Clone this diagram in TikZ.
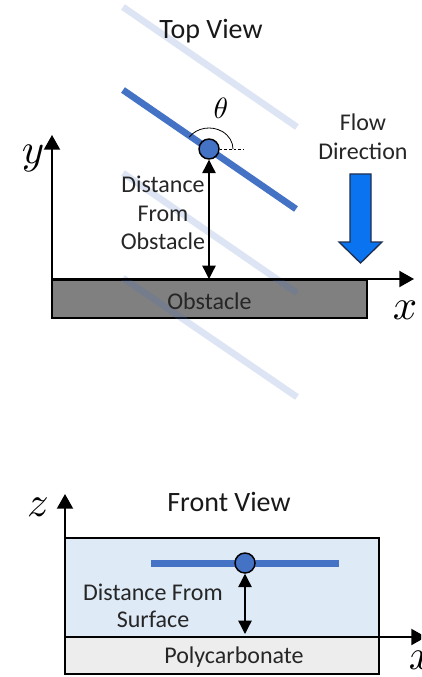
\documentclass[tikz,border=0pt]{standalone}
\usepackage{fontspec}
\setmainfont{Carlito}
\usetikzlibrary{arrows.meta,positioning}
\definecolor{blade}{HTML}{4472C4}
\definecolor{flow}{HTML}{0A74F0}
\definecolor{flowedge}{HTML}{1F2F4F}
\definecolor{obst}{HTML}{808080}
\definecolor{water}{HTML}{DEEAF6}
\definecolor{poly}{HTML}{EDEDED}

\begin{document}
\begin{tikzpicture}[x=0.75pt,y=-0.75pt,
  lbl/.style={font=\fontsize{18}{21.4}\selectfont,text=black!85,align=center,inner sep=0pt},
  ttl/.style={font=\fontsize{21}{24}\selectfont,text=black!90,inner sep=0pt},
  axlbl/.style={scale=3.2,inner sep=0pt},
  axarrow/.style={line width=1.5pt,-{Triangle[width=12pt,length=11pt]}},
  dist/.style={line width=1pt,{Triangle[width=10pt,length=10pt]}-{Triangle[width=10pt,length=10pt]}},
  pivotdot/.style={circle,draw,line width=1.1pt,fill=blade,minimum size=15pt,inner sep=0pt},
  ghost/.style={line width=5pt,draw=blade,draw opacity=0.18}]
\useasboundingbox (0,0) rectangle (421,677);
\clip (0,0) rectangle (421,677);
\fill[white] (0,0) rectangle (421,677);

% top view
\node[draw,line width=1.1pt,fill=obst,minimum width=236.25pt,minimum height=28.5pt,inner sep=0pt] (obstacle) at (209.5,299) {};
\draw[ghost] (123,7) -- (297,127);
\draw[ghost] (123,173) -- (297,293);
\draw[ghost] (123,278) -- (297,397);
\node[lbl] (obstlbl) at (209.5,301) {Obstacle};
\node[ttl] (top) at (211,31) {Top View};

\coordinate (o1) at (52,279);
\coordinate (ytip) at (52,135);
\coordinate (xtip) at (414,279);
\draw[axarrow] (o1) -- (ytip);
\draw[axarrow] (o1) -- (xtip);
\node[axlbl] (ylab) at (33,158) {$y$};
\node[axlbl] (xlab) at (405,310) {$x$};

\coordinate (bladeL) at (123,90);
\coordinate (bladeR) at (296,209);
\draw[line width=5pt,blade] (bladeL) -- (bladeR);
\node[pivotdot] (pivot) at (209,149) {};
\coordinate (dashend) at (244,149);
\draw[line width=0.6pt,dash pattern=on 2pt off 1.5pt] (pivot.east) -- (dashend);
\draw[line width=0.6pt] (pivot.center) ++(-145.5:24 and 21) arc[start angle=-145.5,end angle=0,x radius=24,y radius=21];
\node[scale=2.2] (theta) at (221,108) {$\theta$};

\coordinate (foot1) at (209,279);
\draw[dist] (pivot.south) -- (foot1);
\node[lbl] (dfo) at (163,213) {Distance\\From\\Obstacle};

\node[lbl] (flowlbl) at (363,137) {Flow\\Direction};
\draw[fill=flow,draw=flowedge,line width=1pt] (350,174) -- (371,174) -- (371,242) -- (382,242) -- (360.5,263) -- (339,242) -- (350,242) -- cycle;

% front view
\node[ttl] (front) at (229,502) {Front View};
\node[draw,line width=1.1pt,fill=water,minimum width=235.5pt,minimum height=74.25pt,inner sep=0pt] (chan) at (222,587.5) {};
\node[draw,line width=1.1pt,fill=poly,minimum width=235.5pt,minimum height=27.75pt,inner sep=0pt] (pc) at (222,655.5) {};
\node[lbl] (pclbl) at (234,657) {Polycarbonate};

\coordinate (o2) at (65,637);
\coordinate (ztip) at (65,494);
\coordinate (x2tip) at (426,637);
\draw[axarrow] (o2) -- (ztip);
\draw[axarrow] (o2) -- (x2tip);
\node[axlbl] (zlab) at (38,507) {$z$};
\node[axlbl] (x2lab) at (421,660) {$x$};

\coordinate (sheetL) at (151,563);
\coordinate (sheetR) at (339,563);
\draw[line width=5.25pt,blade] (sheetL) -- (sheetR);
\node[pivotdot] (pivot2) at (245,563) {};
\coordinate (foot2) at (245,634);
\draw[dist] (pivot2.south) -- (foot2);
\node[lbl,font=\fontsize{18}{20.6}\selectfont] (dfs) at (153,606) {Distance From\\Surface};
\end{tikzpicture}
\end{document}
